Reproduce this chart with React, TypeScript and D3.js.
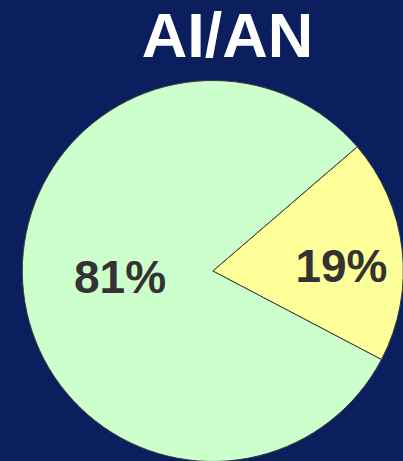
import React from "react";
import * as d3 from "d3";

const title = "AI/AN";
const categories = ["Yes", "No"];
const values = [19, 81];
const labels = ["19%", "81%"];
const colors = ["#ffff99", "#ccffcc"];

const W = 403;
const H = 461;
const cx = 212.8;
const cy = 271;
const R = 190.5;
const startDeg = 49.3;
const labelPos = [
  { r: 0.68, dy: 9 },
  { r: 0.49, dy: -5 },
];

export default function App() {
  const pie = d3
    .pie<number>()
    .sort(null)
    .value((d) => d)
    .startAngle((startDeg * Math.PI) / 180)
    .endAngle((startDeg * Math.PI) / 180 + 2 * Math.PI);
  const arcs = pie(values);
  const arc = d3.arc<d3.PieArcDatum<number>>().innerRadius(0).outerRadius(R);
  const fs = 46;
  return (
    <svg
      width={W}
      height={H}
      style={{ position: "absolute", left: 0, top: 0 }}
      fontFamily="'Liberation Sans', Arial, sans-serif"
    >
      <rect width={W} height={H} fill="#0b1f5f" />
      <text
        x={227.5}
        y={57}
        textAnchor="middle"
        fontSize={63}
        fontWeight="bold"
        fill="#ffffff"
      >
        {title}
      </text>
      <g transform={`translate(${cx},${cy})`}>
        {arcs.map((a, i) => (
          <path
            key={categories[i]}
            d={arc(a) || ""}
            fill={colors[i]}
            stroke="#3a3a3a"
            strokeWidth={1}
          />
        ))}
        {arcs.map((a, i) => {
          const mid = (a.startAngle + a.endAngle) / 2;
          const rr = R * labelPos[i].r;
          const x = rr * Math.sin(mid);
          const y = -rr * Math.cos(mid) + labelPos[i].dy;
          return (
            <text
              key={"l" + i}
              x={x}
              y={y + fs * 0.358}
              textAnchor="middle"
              fontSize={fs}
              fontWeight="bold"
              fill="#333333"
            >
              {labels[i]}
            </text>
          );
        })}
      </g>
    </svg>
  );
}
